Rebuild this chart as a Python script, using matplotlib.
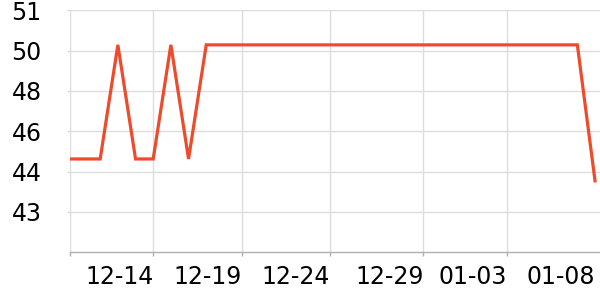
import numpy as np
import pandas as pd
import matplotlib
matplotlib.use("Agg")
import matplotlib.pyplot as plt
import matplotlib.dates as mdates

# daily readings, 2023-12-09 .. 2024-01-08
DATES = pd.date_range("2023-12-09", "2024-01-08", freq="D")
VALUES = ([44.95, 44.95, 44.95, 49.9, 44.95, 44.95, 49.9, 44.95]
          + [49.9] * 22
          + [44.0])

# y ticks are evenly spaced; labels are the rounded values shown on the chart
Y_TICKS = [51.4, 49.65, 47.9, 46.15, 44.4, 42.65]
Y_LABELS = ["51", "50", "48", "46", "44", "43"]
X_TICKS = pd.to_datetime(["2023-12-14 00:00", "2023-12-19 00:00", "2023-12-24 00:00",
                          "2023-12-29 07:00", "2024-01-03 00:00", "2024-01-08 00:00"])
X_LABELS = ["12-14", "12-19", "12-24", "12-29", "01-03", "01-08"]

LINE = "#ee4b2d"
GRID = "#dddddd"
AXIS = "#b0b0b0"

fig = plt.figure(figsize=(6, 3), dpi=100)
ax = fig.add_axes([70 / 600, 1 - 252.3 / 300, 530 / 600, (252.3 - 10.3) / 300])

ax.plot(DATES, VALUES, color=LINE, lw=2.3, solid_joinstyle="miter")

x0 = pd.Timestamp("2023-12-09 07:00")
x1 = pd.Timestamp("2024-01-08 06:45")
ax.set_xlim(x0, x1)
ax.set_ylim(40.9, 51.4)

ax.set_yticks(Y_TICKS)
ax.set_yticklabels(Y_LABELS)
ax.set_xticks(list(X_TICKS))
ax.set_xticklabels(X_LABELS, ha="right")
ax.xaxis.set_minor_locator(matplotlib.ticker.FixedLocator([mdates.date2num(x0)]))

ax.grid(True, color=GRID, lw=1)
ax.axvline(x0, color=GRID, lw=1, zorder=0)
for s in ["top", "right", "left"]:
    ax.spines[s].set_visible(False)
ax.spines["bottom"].set_color(AXIS)
ax.spines["bottom"].set_linewidth(1)

ax.tick_params(axis="y", length=2, width=1, color=GRID, pad=18.5, labelsize=17)
ax.tick_params(axis="x", which="both", length=3, width=1, color=AXIS, pad=6, labelsize=17)

# last label sits at the edge without its own tick or gridline
last = ax.xaxis.get_major_ticks()[-1]
last.tick1line.set_visible(False)
last.gridline.set_visible(False)

fig.savefig("out.png", dpi=100)
